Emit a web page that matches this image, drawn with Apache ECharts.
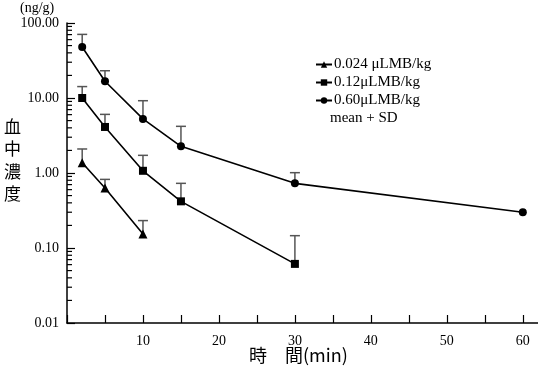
<!DOCTYPE html>
<html><head><meta charset="utf-8">
<script src="https://cdn.jsdelivr.net/npm/echarts@6/dist/echarts.min.js"></script>
<style>html,body{margin:0;padding:0;background:#fff}#c{width:538px;height:369px}</style>
</head><body><div id="c"></div>
<script>
// ---- data ----
const seriesNames = ['0.024 \u03bcLMB/kg', '0.12\u03bcLMB/kg', '0.60\u03bcLMB/kg'];
const timesLow = [2, 5, 10];
const meanLow = [1.37, 0.632, 0.154];
const upperLow = [2.09, 0.822, 0.232];
const timesMid = [2, 5, 10, 15, 30];
const meanMid = [10.0, 4.11, 1.07, 0.419, 0.0614];
const upperMid = [14.2, 6.05, 1.72, 0.728, 0.146];
const timesHigh = [2, 5, 10, 15, 30, 60];
const meanHigh = [47.9, 16.7, 5.26, 2.27, 0.728, 0.299];
const upperHigh = [70.5, 23.1, 9.2, 4.19, 1.01, null];
const yTickLabels = ['0.01', '0.10', '1.00', '10.00', '100.00'];
const xTickLabels = ['10', '20', '30', '40', '50', '60'];
const minorTickValues = [];
[0.01, 0.1, 1, 10].forEach(b => { for (let m = 2; m <= 9; m++) minorTickValues.push(+(b * m).toPrecision(3)); });

const SERIF = '"Liberation Serif","DejaVu Serif",serif';
const JP = '"Noto Sans CJK JP","Noto Sans CJK SC",sans-serif';

function pairs(t, v) { return t.map((x, i) => [x, v[i]]); }
function errData(t, m, u) { const out = []; t.forEach((x, i) => { if (u[i] != null) out.push([x, m[i], u[i]]); }); return out; }

const errRender = function (params, api) {
  const p0 = api.coord([api.value(0), api.value(1)]);
  const p1 = api.coord([api.value(0), api.value(2)]);
  const style = { stroke: '#555', lineWidth: 1.5, fill: null };
  return { type: 'group', children: [
    { type: 'line', shape: { x1: p0[0], y1: p0[1], x2: p1[0], y2: p1[1] }, style },
    { type: 'line', shape: { x1: p1[0] - 5, y1: p1[1], x2: p1[0] + 5, y2: p1[1] }, style }
  ] };
};

const chart = echarts.init(document.getElementById('c'), null, { renderer: 'canvas' });
const mkLine = (name, data, sym, size) => ({
  name, type: 'line', data, symbol: sym, symbolSize: size, z: 5,
  lineStyle: { color: '#000', width: 1.6 }, itemStyle: { color: '#000' }, animation: false
});
const mkErr = (data) => ({ type: 'custom', renderItem: errRender, data, z: 3, animation: false, silent: true, clip: false });

chart.setOption({
  animation: false,
  grid: { left: 67, right: 0, top: 23, bottom: 46, containLabel: false },
  xAxis: {
    type: 'value', min: 0, max: 62, interval: 5,
    axisLine: { lineStyle: { color: '#000', width: 1.5 } },
    axisTick: { inside: true, length: 8, lineStyle: { color: '#000', width: 1.2 } },
    axisLabel: { margin: 11, color: '#000', fontFamily: SERIF, fontSize: 14,
      formatter: v => xTickLabels.indexOf(String(v)) >= 0 ? String(v) : '' , showMaxLabel: false},
    splitLine: { show: false }
  },
  yAxis: {
    type: 'log', logBase: 10, min: 0.01, max: 100,
    axisLine: { lineStyle: { color: '#000', width: 1.5 } },
    axisTick: { inside: true, length: 8, lineStyle: { color: '#000', width: 1.2 } },
    axisLabel: { margin: 8, color: '#000', fontFamily: SERIF, fontSize: 14,
      formatter: v => { const s = Number(v).toFixed(2); return yTickLabels.indexOf(s) >= 0 ? s : ''; } },
    splitLine: { show: false }
  },
  legend: {
    data: seriesNames, orient: 'vertical', left: 310, top: 52, itemGap: 3,
    itemWidth: 16, itemHeight: 8,
    textStyle: { fontFamily: SERIF, fontSize: 15, color: '#000', padding: [0, 0, 0, -3] }
  },
  graphic: [
    { type: 'text', left: 20, top: 1, style: { text: '(ng/g)', font: '14px ' + SERIF, fill: '#000' } },
    { type: 'text', left: 4, top: 115, style: { text: '血\n中\n濃\n度', font: '17px ' + JP, fill: '#000', lineHeight: 22.5 } },
    { type: 'text', left: 249, top: 346, style: { text: '時　間(min)', font: '18px ' + JP, fill: '#000' } },
    { type: 'text', left: 330, top: 111, style: { text: 'mean + SD', font: '15px ' + SERIF, fill: '#000' } }
  ],
  series: [
    mkErr(errData(timesLow, meanLow, upperLow)),
    mkErr(errData(timesMid, meanMid, upperMid)),
    mkErr(errData(timesHigh, meanHigh, upperHigh)),
    { type: 'custom', silent: true, animation: false, z: 2, clip: false,
      data: minorTickValues.map(v => [0, v]),
      renderItem: (params, api) => {
        const p = api.coord([0, api.value(1)]);
        return { type: 'line', shape: { x1: p[0], y1: p[1], x2: p[0] + 5, y2: p[1] }, style: { stroke: '#000', lineWidth: 1.2 } };
      } },
    mkLine(seriesNames[0], pairs(timesLow, meanLow), 'triangle', 9),
    mkLine(seriesNames[1], pairs(timesMid, meanMid), 'rect', 8),
    mkLine(seriesNames[2], pairs(timesHigh, meanHigh), 'circle', 8)
  ]
});
</script></body></html>
